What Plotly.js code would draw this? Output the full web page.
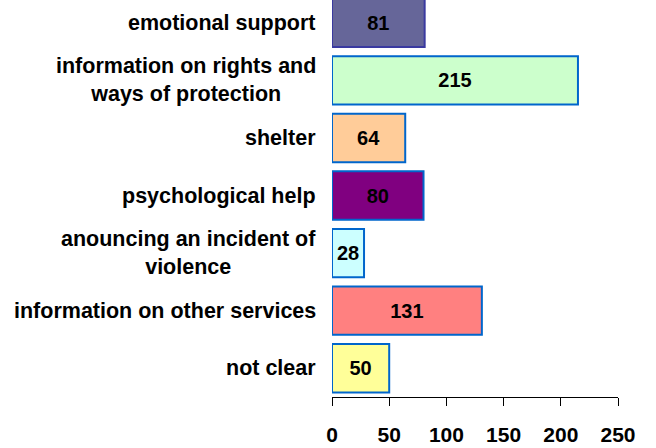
<!DOCTYPE html>
<html>
<head>
<meta charset="utf-8">
<script src="https://cdn.plot.ly/plotly-3.0.1.min.js"></script>
<style>
  html, body { margin: 0; padding: 0; background: #fff; }
  #chart { width: 656px; height: 448px; }
</style>
</head>
<body>
<div id="chart"></div>
<script>
// categories top to bottom
const categories = [
    "emotional support",
    "information on rights and<br>ways of protection",
    "shelter",
    "psychological help",
    "anouncing an incident of<br>violence",
    "information on other services",
    "not clear"
];
const counts = [81, 215, 64, 80, 28, 131, 50];
const barColors = ["#666699", "#CCFFCC", "#FFCC99", "#800080", "#CCFFFF", "#FF8080", "#FFFF99"];
const borderColors = ["#3a3aa0", "#0066CC", "#0066CC", "#0066CC", "#0066CC", "#0066CC", "#0066CC"];
const xTicks = [0, 50, 100, 150, 200, 250];

const font = "Liberation Sans, Arial, sans-serif";

// category labels as annotations so the two-line ones stay centred
const labelNotes = categories.map(c => ({
    xref: "paper", yref: "y",
    x: 0, y: c,
    xanchor: "right", xshift: -14,
    align: "center",
    text: "<b>" + c + "</b>",
    showarrow: false,
    font: { family: font, size: 21.5, color: "#000" }
}));

Plotly.newPlot("chart", [{
    type: "bar",
    orientation: "h",
    x: counts,
    y: categories,
    marker: { color: barColors, line: { color: borderColors, width: 2 } },
    text: counts.map(v => "<b>" + v + "</b>"),
    textposition: "inside",
    insidetextanchor: "middle",
    textfont: { family: font, size: 20, color: "#000" },
    constraintext: "none",
    width: 0.84,
    hoverinfo: "x+y"
}], {
    width: 656, height: 448,
    paper_bgcolor: "#fff", plot_bgcolor: "#fff",
    margin: { t: 0, b: 51, l: 332, r: 38 },
    showlegend: false,
    xaxis: {
        range: [0, 250],
        tickvals: xTicks,
        ticks: "outside", ticklen: 8, tickcolor: "#000", tickwidth: 1,
        showline: true, linecolor: "#000", linewidth: 1,
        showgrid: false, zeroline: false,
        tickfont: { family: font, size: 21, color: "#000", weight: "bold" },
        ticklabelstandoff: 11,
        fixedrange: true
    },
    yaxis: {
        type: "category",
        categoryorder: "array", categoryarray: categories,
        range: [6.5, -0.397],
        showticklabels: false, ticks: "",
        showline: false, showgrid: false, zeroline: false,
        fixedrange: true
    },
    annotations: labelNotes
}, { displayModeBar: false, staticPlot: true });
</script>
</body>
</html>
